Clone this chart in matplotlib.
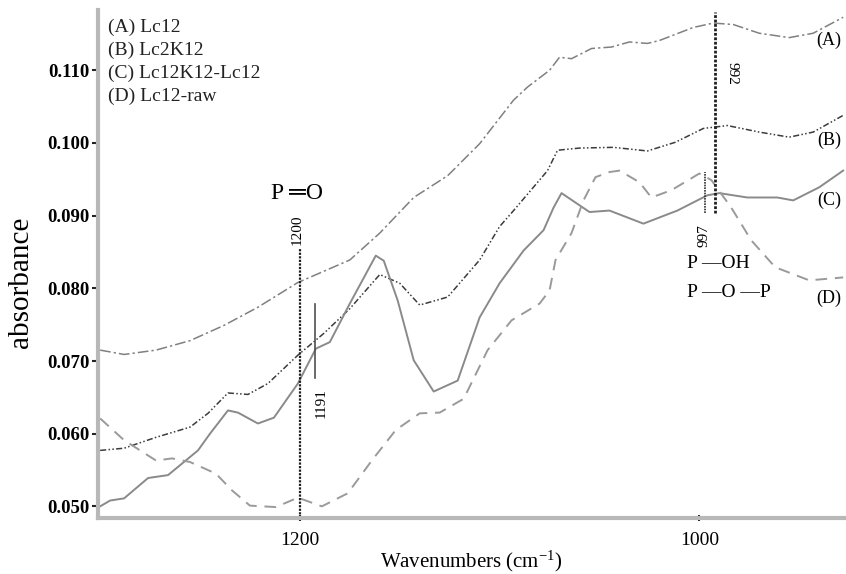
import numpy as np
import matplotlib
matplotlib.use("Agg")
import matplotlib.pyplot as plt
from matplotlib.ticker import MultipleLocator, FixedLocator

plt.rcParams["font.family"] = ["Liberation Serif", "DejaVu Sans"]
plt.rcParams["mathtext.fontset"] = "custom"
plt.rcParams["mathtext.rm"] = "Liberation Serif"
plt.rcParams["mathtext.it"] = "Liberation Serif:italic"

# (A) Lc12
wn_a = [1300, 1288, 1272, 1255, 1238, 1221, 1201, 1175, 1160, 1143, 1126, 1110,
        1093, 1086, 1075, 1070, 1064, 1054, 1044, 1035, 1026, 1020, 1003, 993,
        983, 970, 955, 943, 928]
abs_a = [0.0715, 0.0709, 0.0715, 0.0728, 0.0749, 0.0774, 0.0808, 0.0839, 0.0876,
         0.0925, 0.0955, 0.0999, 0.1059, 0.1077, 0.1100, 0.1118, 0.1116, 0.1130,
         0.1132, 0.1139, 0.1137, 0.1141, 0.1159, 0.1165, 0.1163, 0.1151, 0.1145,
         0.1151, 0.1173]

# (B) Lc2K12
wn_b = [1300, 1288, 1272, 1255, 1246, 1236, 1226, 1216, 1201, 1188, 1175, 1160,
        1150, 1140, 1126, 1110, 1100, 1093, 1076, 1071, 1060, 1043, 1026, 1012,
        998, 986, 970, 955, 943, 928]
abs_b = [0.0577, 0.0580, 0.0595, 0.0609, 0.0628, 0.0656, 0.0654, 0.0669, 0.0708,
         0.0738, 0.0772, 0.0819, 0.0807, 0.0777, 0.0788, 0.0839, 0.0885, 0.0907,
         0.0962, 0.0990, 0.0993, 0.0994, 0.0989, 0.1001, 0.1020, 0.1024, 0.1015,
         0.1008, 0.1015, 0.1038]

# (C) Lc12K12-Lc12
wn_c = [1300, 1295, 1288, 1276, 1266, 1251, 1245, 1236, 1231, 1221, 1213, 1201,
        1192, 1185, 1175, 1162, 1158, 1151, 1143, 1133, 1121, 1110, 1100, 1088,
        1078, 1073, 1069, 1055, 1045, 1028, 1011, 996, 990, 976, 961, 953, 940, 928]
abs_c = [0.0500, 0.0508, 0.0511, 0.0539, 0.0543, 0.0577, 0.0600, 0.0632, 0.0629,
         0.0614, 0.0622, 0.0669, 0.0717, 0.0726, 0.0779, 0.0845, 0.0838, 0.0783,
         0.0701, 0.0658, 0.0673, 0.0760, 0.0807, 0.0852, 0.0880, 0.0911, 0.0931,
         0.0905, 0.0907, 0.0889, 0.0907, 0.0928, 0.0931, 0.0925, 0.0925, 0.0921,
         0.0939, 0.0962]

# (D) Lc12-raw
wn_d = [1300, 1288, 1272, 1264, 1255, 1242, 1234, 1225, 1212, 1201, 1189, 1176,
        1164, 1152, 1140, 1130, 1118, 1106, 1094, 1080, 1075, 1072, 1064, 1058,
        1052, 1045, 1040, 1030, 1024, 1014, 1000, 994, 984, 974, 962, 945, 928]
abs_d = [0.0621, 0.0591, 0.0563, 0.0566, 0.0561, 0.0545, 0.0522, 0.0501, 0.0499,
         0.0512, 0.0500, 0.0518, 0.0563, 0.0605, 0.0628, 0.0629, 0.0648, 0.0715,
         0.0756, 0.0779, 0.0797, 0.0839, 0.0876, 0.0921, 0.0953, 0.0960, 0.0962,
         0.0946, 0.0925, 0.0935, 0.0958, 0.0949, 0.0911, 0.0866, 0.0829, 0.0811,
         0.0815]

legend_labels = ["(A) Lc12", "(B) Lc2K12", "(C) Lc12K12-Lc12", "(D) Lc12-raw"]
end_labels = ["(A)", "(B)", "(C)", "(D)"]

fig = plt.figure(figsize=(8.46, 5.74), dpi=100)
ax = fig.add_axes([0.116, 0.0976, 0.883, 0.885])

ax.plot(wn_a, abs_a, color="#808080", lw=1.1, dashes=(7, 2, 1.5, 2))
ax.plot(wn_b, abs_b, color="#3c3c3c", lw=1.1, dashes=(4, 1.5, 1, 1.5, 1, 1.5))
ax.plot(wn_c, abs_c, color="#8a8a8a", lw=1.4, ls="-")
ax.plot(wn_d, abs_d, color="#9a9a9a", lw=1.4, dashes=(6, 4))

# marker lines
ax.plot([1200, 1200], [0.0484, 0.0856], color="#202020", lw=1.6, dashes=(1, 0.6))
ax.plot([1192.5, 1192.5], [0.0676, 0.0779], color="#505050", lw=1.2)
ax.plot([992, 992], [0.0903, 0.1180], color="#202020", lw=2.0, dashes=(1, 0.6))
ax.plot([997, 997], [0.0903, 0.0960], color="#303030", lw=1.2, dashes=(1, 0.6))

ax.text(1201.5, 0.0931, "P ═O", fontsize=17, ha="center", va="center",
        family=["Liberation Serif", "DejaVu Sans"])
ax.text(1201.5, 0.0880, "1200", fontsize=11, rotation=90, ha="center", va="center")
ax.text(1189.5, 0.0642, "1191", fontsize=11, rotation=90, ha="center", va="center")
ax.text(983.5, 0.1096, "992", fontsize=11, rotation=270, ha="center", va="center")
ax.text(997.5, 0.0873, "997", fontsize=11, rotation=90, ha="center", va="center")
ax.text(1006, 0.0834, "P —OH", fontsize=14, ha="left", va="center")
ax.text(1006, 0.0794, "P —O —P", fontsize=14, ha="left", va="center")

for lab, yv in zip(end_labels, [0.1141, 0.1004, 0.0921, 0.0786]):
    ax.text(929, yv, lab, fontsize=13, ha="right", va="center")

for i, lab in enumerate(legend_labels):
    ax.text(0.013, 0.966 - i * 0.0453, lab, transform=ax.transAxes,
            fontsize=14, ha="left", va="center", color="#222222")

ax.set_xlim(1301, 927)
ax.set_ylim(0.0484, 0.1183)

ax.xaxis.set_major_locator(FixedLocator([1200, 1000]))
ax.xaxis.set_minor_locator(MultipleLocator(50))
ax.yaxis.set_major_locator(MultipleLocator(0.01))
ax.yaxis.set_minor_locator(MultipleLocator(0.0025))
ax.yaxis.set_major_formatter(plt.FuncFormatter(lambda v, p: f"{v:.3f}"))

for lab in ax.get_yticklabels():
    lab.set_fontweight("bold")
ax.tick_params(axis="y", which="major", labelsize=13.5, length=4, width=1.5,
               color="#222222", direction="out", pad=2)
ax.tick_params(axis="x", which="major", labelsize=14, length=4, width=1.5,
               color="#222222", direction="inout", pad=8)
ax.tick_params(which="minor", length=2, width=1.5, color="#222222", direction="inout")

for s in ["top", "right"]:
    ax.spines[s].set_visible(False)
for s in ["left", "bottom"]:
    ax.spines[s].set_color("#b8b8b8")
    ax.spines[s].set_linewidth(3)

ax.set_ylabel("absorbance", fontsize=21)
ax.yaxis.set_label_coords(-0.086, 0.463)
ax.set_xlabel("Wavenumbers (cm$^{-1}$)", fontsize=15, labelpad=0)

fig.savefig("out.png", dpi=100)
